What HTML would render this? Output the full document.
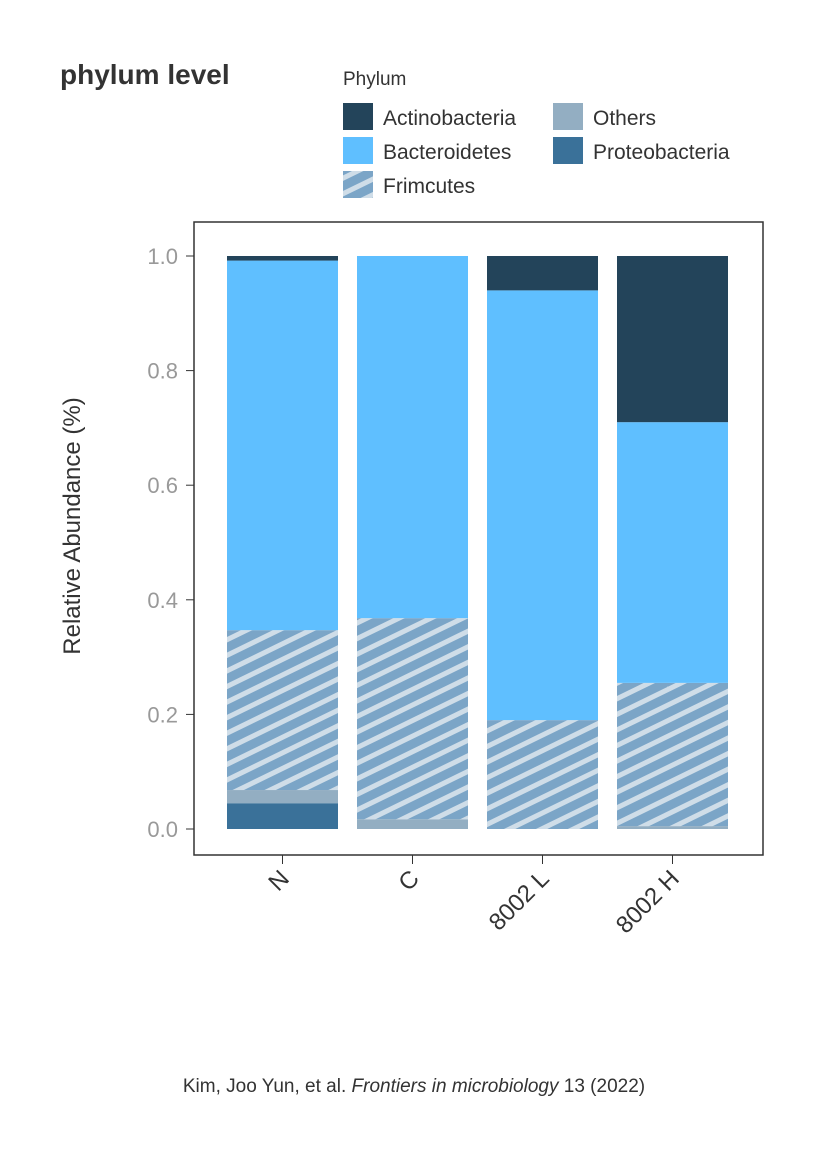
<!DOCTYPE html>
<html><head><meta charset="utf-8"><style>
body{margin:0;background:#fff;font-family:"Liberation Sans",sans-serif}
</style></head><body>
<svg width="838" height="1154" xmlns="http://www.w3.org/2000/svg" font-family="Liberation Sans, sans-serif">
<defs>
<pattern id="hatch" width="14" height="14" patternUnits="userSpaceOnUse" patternTransform="rotate(-26)">
<rect width="14" height="14" fill="#7ba5c7"/><rect y="0" width="14" height="5" fill="#cfdde8"/>
</pattern>
</defs>
<text x="60" y="84" font-size="28" font-weight="bold" fill="#333">phylum level</text>
<g id="legend"></g>
<rect x="194" y="222" width="569" height="633" fill="none" stroke="#333" stroke-width="1.5"/>
<g id="bars"></g>
<g id="yaxis"></g>
<g id="xaxis"></g>
<text transform="translate(80,526) rotate(-90)" text-anchor="middle" font-size="24" fill="#333">Relative Abundance (%)</text>
<text x="414" y="1092" text-anchor="middle" font-size="19" fill="#333">Kim, Joo Yun, et al. <tspan font-style="italic">Frontiers in microbiology</tspan> 13 (2022)</text>
</svg>
<script>
const categories=["N","C","8002 L","8002 H"];
const seriesNames=["Proteobacteria","Others","Frimcutes","Bacteroidetes","Actinobacteria"];
const proteobacteria=[0.045,0,0,0];
const others=[0.023,0.017,0,0.005];
const frimcutes=[0.279,0.351,0.19,0.25];
const bacteroidetes=[0.645,0.632,0.75,0.455];
const actinobacteria=[0.008,0,0.06,0.29];
const yTicks=["0.0","0.2","0.4","0.6","0.8","1.0"];
const colors=["#3a7199","#93aec2","url(#hatch)","#5fbfff","#23445a"];
const NS="http://www.w3.org/2000/svg";
const y=v=>829-v*573;
const x=i=>227+i*130;
const bw=111;
const series=[proteobacteria,others,frimcutes,bacteroidetes,actinobacteria];
const bars=document.getElementById('bars');
categories.forEach((c,i)=>{
  let acc=0;
  series.forEach((s,k)=>{
    const v=s[i]; if(v<=0)return;
    const r=document.createElementNS(NS,'rect');
    r.setAttribute('x',x(i));r.setAttribute('width',bw);
    r.setAttribute('y',y(acc+v));r.setAttribute('height',v*573);
    r.setAttribute('fill',colors[k]);
    
    
    bars.appendChild(r);acc+=v;
  });
});
const ya=document.getElementById('yaxis');
yTicks.forEach(t=>{
  const yy=y(parseFloat(t));
  const l=document.createElementNS(NS,'line');
  l.setAttribute('x1',186);l.setAttribute('x2',194);l.setAttribute('y1',yy);l.setAttribute('y2',yy);l.setAttribute('stroke','#333');
  
  
  ya.appendChild(l);
  const tx=document.createElementNS(NS,'text');
  tx.setAttribute('x',178);tx.setAttribute('y',yy+8);tx.setAttribute('text-anchor','end');tx.setAttribute('font-size','22');tx.setAttribute('fill','#999');
  tx.textContent=t;
  
  
  ya.appendChild(tx);
});
const xa=document.getElementById('xaxis');
categories.forEach((c,i)=>{
  const cx=x(i)+bw/2;
  const l=document.createElementNS(NS,'line');
  l.setAttribute('x1',cx);l.setAttribute('x2',cx);l.setAttribute('y1',855);l.setAttribute('y2',864);l.setAttribute('stroke','#333');
  
  
  xa.appendChild(l);
  const tx=document.createElementNS(NS,'text');
  tx.setAttribute('transform','translate('+(cx+8)+',880) rotate(-45)');
  tx.setAttribute('text-anchor','end');tx.setAttribute('font-size','24');tx.setAttribute('fill','#333');
  tx.textContent=c;
  
  
  xa.appendChild(tx);
});
const lg=document.getElementById('legend');
const lt=document.createElementNS(NS,'text');
lt.setAttribute('x',343);lt.setAttribute('y',85);lt.setAttribute('font-size','19');lt.setAttribute('fill','#333');lt.textContent='Phylum';


lg.appendChild(lt);
const entries=[["Actinobacteria",4,343,103],["Bacteroidetes",3,343,137],["Frimcutes",2,343,171],["Others",1,553,103],["Proteobacteria",0,553,137]];
entries.forEach(e=>{
  const r=document.createElementNS(NS,'rect');
  r.setAttribute('x',e[2]);r.setAttribute('y',e[3]);r.setAttribute('width',30);r.setAttribute('height',27);r.setAttribute('fill',colors[e[1]]);
  
  
  lg.appendChild(r);
  const t=document.createElementNS(NS,'text');
  t.setAttribute('x',e[2]+40);t.setAttribute('y',e[3]+22);t.setAttribute('font-size','21');t.setAttribute('fill','#333');t.textContent=e[0];
  
  
  lg.appendChild(t);
});
</script>
</body></html>
